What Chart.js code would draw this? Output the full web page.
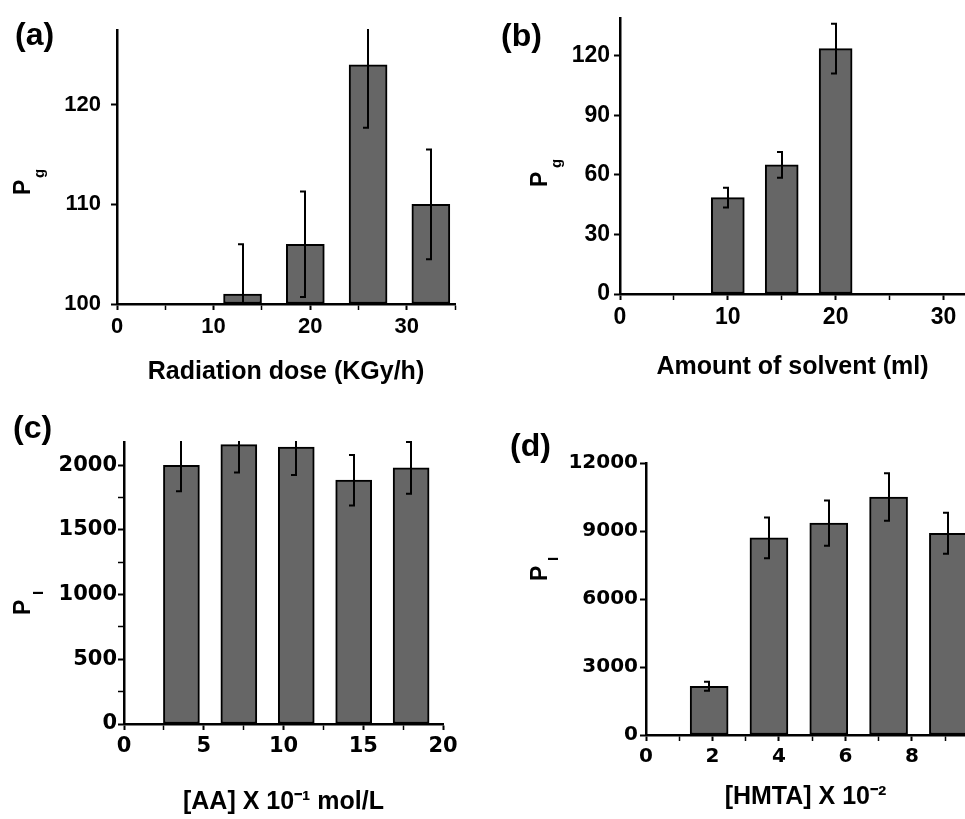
<!DOCTYPE html>
<html>
<head>
<meta charset="utf-8">
<script src="https://cdn.jsdelivr.net/npm/chart.js@4.4.1/dist/chart.umd.min.js"></script>
<style>
  html, body { margin: 0; padding: 0; background: #fff; }
  #wrap { position: relative; width: 965px; height: 819px; overflow: hidden; }
  canvas { position: absolute; }
</style>
</head>
<body>
<div id="wrap">
  <canvas id="chartA" width="480" height="400" style="left:0;top:0"></canvas>
  <canvas id="chartB" width="485" height="400" style="left:480px;top:0"></canvas>
  <canvas id="chartC" width="480" height="419" style="left:0;top:400px"></canvas>
  <canvas id="chartD" width="485" height="419" style="left:480px;top:400px"></canvas>
</div>
<script>
// (a) radiation dose
const doseA = [13, 19.5, 26, 32.5];
const pgA = [101, 106, 124, 110];
const errA = [5, 5.3, 6.3, 5.5];

// (b) amount of solvent
const solventB = [10, 15, 20];
const pgB = [48.5, 65, 123.5];
const errB = [5, 6.5, 12.5];

// (c) [AA]
const aaC = [3.6, 7.2, 10.8, 14.4, 18.0];
const piC = [2000, 2160, 2140, 1885, 1980];
const errC = [200, 215, 215, 195, 200];

// (d) [HMTA]
const hmtaD = [1.9, 3.7, 5.5, 7.3, 9.1];
const piD = [2150, 8700, 9350, 10500, 8900];
const errD = [200, 900, 1000, 1050, 900];

const FONT = "'Liberation Sans', Arial, sans-serif";
const WIDE_FONT = "'DejaVu Sans', sans-serif";
const BAR_GREY = '#666666';

function makePanel(id, p) {
    const points = p.xs.map((x, i) => ({ x, y: p.ys[i] }));

    const extras = {
        id: 'extras' + id,
        afterDatasetsDraw(chart) {
            const { ctx, chartArea, scales } = chart;
            ctx.save();
            ctx.beginPath();
            ctx.rect(chartArea.left, chartArea.top - 1, chartArea.right - chartArea.left, chartArea.bottom - chartArea.top + 1);
            ctx.clip();
            ctx.strokeStyle = '#000';
            ctx.lineWidth = 2;
            p.xs.forEach((x, i) => {
                const px = Math.round(scales.x.getPixelForValue(x));
                const hi = scales.y.getPixelForValue(p.ys[i] + p.errs[i]);
                const lo = scales.y.getPixelForValue(p.ys[i] - p.errs[i]);
                ctx.beginPath();
                ctx.moveTo(px, hi);
                ctx.lineTo(px, lo);
                ctx.moveTo(px - 5, hi);
                ctx.lineTo(px + 1, hi);
                ctx.moveTo(px - 5, lo);
                ctx.lineTo(px + 1, lo);
                ctx.stroke();
            });
            ctx.restore();
        },
        afterDraw(chart) {
            const ctx = chart.ctx;
            ctx.save();
            ctx.fillStyle = '#000';
            ctx.textBaseline = 'alphabetic';
            ctx.textAlign = 'left';
            ctx.font = 'bold 32px ' + FONT;
            ctx.fillText(p.panel, p.panelPos[0], p.panelPos[1]);
            // rotated y title with subscript
            ctx.translate(p.yTitlePos[0], p.yTitlePos[1]);
            ctx.rotate(-Math.PI / 2);
            ctx.font = 'bold 23px ' + FONT;
            ctx.fillText('P', 0, 0);
            ctx.font = 'bold 15px ' + FONT;
            ctx.fillText(p.sub, p.subPos[0], p.subPos[1]);
            ctx.restore();
        }
    };

    const tickFont = { family: p.tickFamily, size: p.tickSize, weight: 'bold' };
    const grid = {
        display: true,
        drawOnChartArea: false,
        drawTicks: true,
        tickLength: 6,
        tickColor: '#000'
    };

    return new Chart(document.getElementById(id), {
        type: 'bar',
        data: {
            datasets: [{
                data: points,
                backgroundColor: BAR_GREY,
                borderColor: '#000',
                borderWidth: 2,
                borderSkipped: false,
                barThickness: p.barWidth,
                base: p.yMin
            }]
        },
        options: {
            responsive: false,
            animation: false,
            devicePixelRatio: 1,
            layout: { padding: p.padding },
            plugins: { legend: { display: false }, tooltip: { enabled: false } },
            scales: {
                x: {
                    type: 'linear',
                    offset: false,
                    min: p.xMin,
                    max: p.xMax,
                    border: { display: true, color: '#000', width: 2.5 },
                    grid: Object.assign({}, grid, {
                        offset: false,
                        tickWidth: ctx => (ctx.tick && ctx.tick.value % p.xMajor === 0) ? 2 : 1.5
                    }),
                    ticks: {
                        stepSize: p.xStep,
                        includeBounds: false,
                        autoSkip: false,
                        maxRotation: 0,
                        padding: 4,
                        color: '#000',
                        font: tickFont,
                        callback: v => (v % p.xMajor === 0 ? String(v) : '')
                    },
                    title: {
                        display: true,
                        text: p.xTitle,
                        color: '#000',
                        font: { family: FONT, size: 25, weight: 'bold' },
                        padding: { top: 0, bottom: p.xTitlePad }
                    },
                    afterFit: s => { s.height = p.xHeight; }
                },
                y: {
                    min: p.yMin,
                    max: p.yMax,
                    border: { display: true, color: '#000', width: 2.5 },
                    grid: Object.assign({}, grid, {
                        tickWidth: ctx => (ctx.tick && (ctx.tick.value - p.yMin) % p.yMajor === 0) ? 2 : 1.5
                    }),
                    ticks: {
                        stepSize: p.yStep,
                        includeBounds: false,
                        autoSkip: false,
                        padding: p.yTickPad,
                        color: '#000',
                        font: tickFont,
                        callback: v => ((v - p.yMin) % p.yMajor === 0 ? String(v) : '')
                    },
                    afterFit: s => { s.width = p.yWidth; }
                }
            }
        },
        plugins: [extras]
    });
}

makePanel('chartA', {
    xs: doseA, ys: pgA, errs: errA, barWidth: 38,
    xMin: 0, xMax: 35, xStep: 5, xMajor: 10,
    yMin: 100, yMax: 127.5, yStep: 10, yMajor: 10,
    tickFamily: FONT, tickSize: 22, yTickPad: 10,
    xTitle: 'Radiation dose (KGy/h)', xTitlePad: 13, xHeight: 96, yWidth: 117,
    padding: { top: 30, right: 25, left: 0, bottom: 0 },
    panel: '(a)', panelPos: [15, 45],
    yTitlePos: [30, 195], sub: 'g', subPos: [17, 14]
});

makePanel('chartB', {
    xs: solventB, ys: pgB, errs: errB, barWidth: 33,
    xMin: 0, xMax: 32, xStep: 5, xMajor: 10,
    yMin: 0, yMax: 139, yStep: 30, yMajor: 30,
    tickFamily: FONT, tickSize: 23, yTickPad: 4,
    xTitle: 'Amount of solvent (ml)', xTitlePad: 18, xHeight: 106, yWidth: 140,
    padding: { top: 13, right: 0, left: 0, bottom: 0 },
    panel: '(b)', panelPos: [21, 46],
    yTitlePos: [67, 187], sub: 'g', subPos: [19, 14]
});

makePanel('chartC', {
    xs: aaC, ys: piC, errs: errC, barWidth: 36,
    xMin: 0, xMax: 20, xStep: 2.5, xMajor: 5,
    yMin: 0, yMax: 2180, yStep: 250, yMajor: 500,
    tickFamily: WIDE_FONT, tickSize: 21, yTickPad: 1,
    xTitle: '[AA] X 10\u207B\u00B9 mol/L', xTitlePad: 2, xHeight: 95, yWidth: 124,
    padding: { top: 42, right: 37, left: 0, bottom: 0 },
    panel: '(c)', panelPos: [13, 38],
    yTitlePos: [30, 215], sub: 'I', subPos: [20, 13]
});

makePanel('chartD', {
    xs: hmtaD, ys: piD, errs: errD, barWidth: 38,
    xMin: 0, xMax: 9.6, xStep: 1, xMajor: 2,
    yMin: 0, yMax: 12000, yStep: 3000, yMajor: 3000,
    tickFamily: WIDE_FONT, tickSize: 20, yTickPad: 2,
    xTitle: '[HMTA] X 10\u207B\u00B2', xTitlePad: 7, xHeight: 84, yWidth: 166,
    padding: { top: 63, right: 0, left: 0, bottom: 0 },
    panel: '(d)', panelPos: [30, 56],
    yTitlePos: [67, 181], sub: 'I', subPos: [20, 11]
});
</script>
</body>
</html>
